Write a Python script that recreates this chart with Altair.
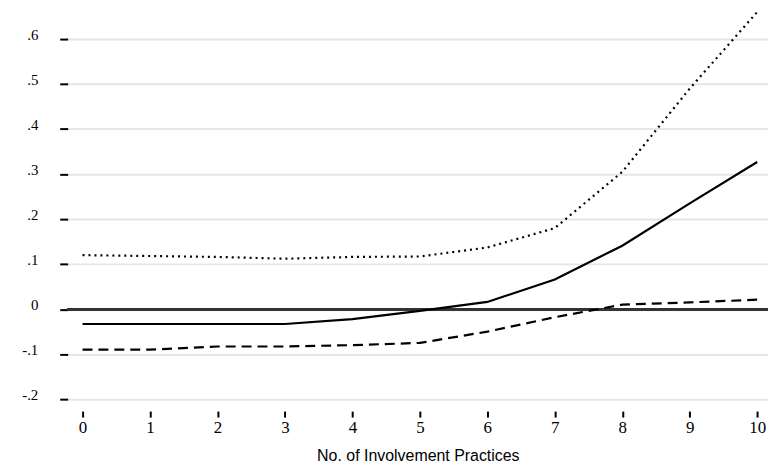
import altair as alt
import pandas as pd

practices = [0, 1, 2, 3, 4, 5, 6, 7, 8, 9, 10]
estimate = [-0.033, -0.033, -0.033, -0.033, -0.022, -0.004, 0.016, 0.066, 0.141, 0.235, 0.327]
upper = [0.12, 0.118, 0.116, 0.112, 0.116, 0.117, 0.137, 0.18, 0.305, 0.49, 0.66]
lower = [-0.09, -0.09, -0.083, -0.083, -0.08, -0.075, -0.05, -0.018, 0.01, 0.015, 0.021]
y_ticks = [-0.2, -0.1, 0, 0.1, 0.2, 0.3, 0.4, 0.5, 0.6]

df = pd.DataFrame({"x": practices, "est": estimate, "hi": upper, "lo": lower})

xscale = alt.Scale(domain=[-0.22, 10.16], nice=False, zero=False)
yscale = alt.Scale(domain=[-0.2, 0.6], nice=False, zero=False)

xaxis = alt.Axis(values=practices, format="d", title="No. of Involvement Practices")
yaxis = alt.Axis(values=y_ticks, title=None,
                 labelExpr="datum.value == 0 ? '0' : (datum.value < 0 ? '-' : '') + replace(format(abs(datum.value), '.1f'), '0.', '.')")

base = alt.Chart(df)

zero = base.mark_rule(color="#333333", strokeWidth=2).encode(
    y=alt.datum(0, scale=yscale, axis=yaxis)
)

est_line = base.mark_line(color="black", strokeWidth=2.2).encode(
    x=alt.X("x:Q", scale=xscale, axis=xaxis),
    y=alt.Y("est:Q", scale=yscale, axis=yaxis),
)
hi_line = base.mark_line(color="black", strokeWidth=2.2, strokeDash=[2, 4]).encode(
    x=alt.X("x:Q", scale=xscale, axis=xaxis), y=alt.Y("hi:Q", scale=yscale, axis=yaxis)
)
lo_line = base.mark_line(color="black", strokeWidth=2.2, strokeDash=[10, 6]).encode(
    x=alt.X("x:Q", scale=xscale, axis=xaxis), y=alt.Y("lo:Q", scale=yscale, axis=yaxis)
)

chart = alt.layer(zero, est_line, hi_line, lo_line).properties(
    width=704, height=362, autosize="none",
    padding={"left": 60, "top": 30, "right": 0, "bottom": 75},
).configure_view(stroke=None).configure_axisX(
    grid=False, domain=False, offset=12, tickSize=6, tickWidth=2, tickColor="black",
    labelFont="Liberation Serif", labelFontSize=17, labelColor="black",
    labelPadding=3, titleFont="Liberation Sans", titleFontSize=16,
    titleFontWeight="normal", titleColor="black", titlePadding=12,
).configure_axisY(
    grid=True, gridColor="#e6e6e6", gridWidth=2,
    domain=False, tickSize=8, tickWidth=2, tickColor="black",
    labelFont="Liberation Serif", labelFontSize=15, labelColor="black",
    labelPadding=22, labelBaseline="alphabetic",
)

chart.save("out.html", embed_options={"renderer": "svg", "actions": False})
